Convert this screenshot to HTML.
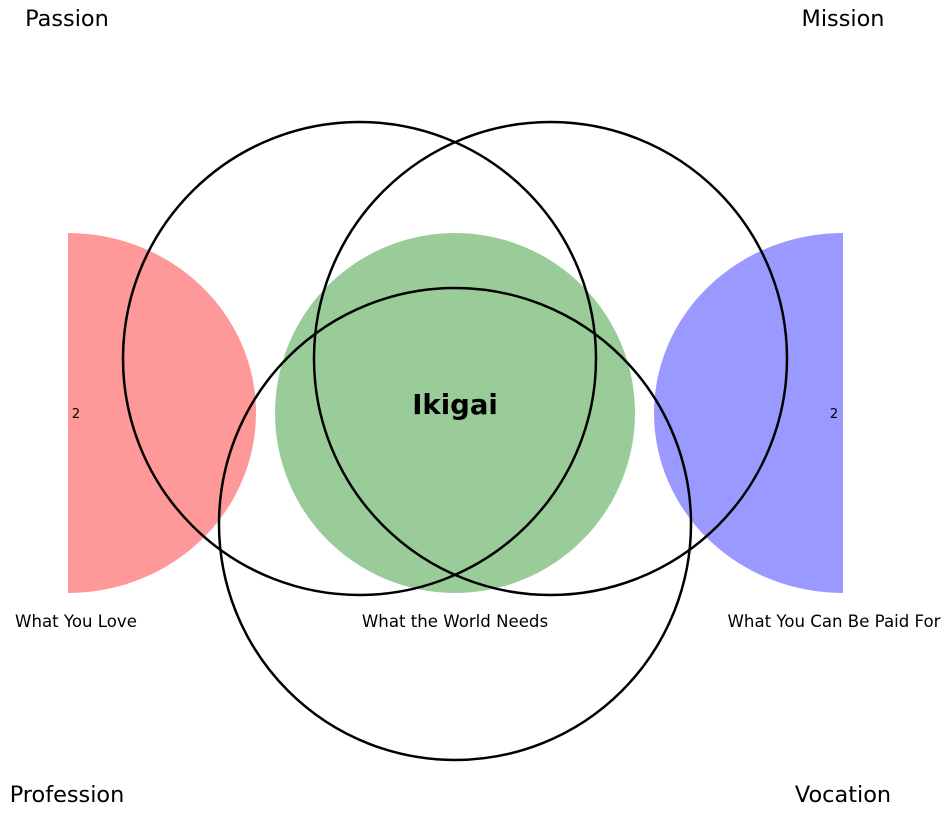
<!DOCTYPE html>
<html><head><meta charset="utf-8"><style>body{margin:0;background:#fff}svg{display:block}</style></head>
<body>
<svg width="950" height="826" viewBox="0 0 950 826" xmlns="http://www.w3.org/2000/svg" font-family="DejaVu Sans, Liberation Sans, sans-serif">
<defs>
<clipPath id="cr"><rect x="68" y="0" width="775" height="826"/></clipPath>
</defs>
<g clip-path="url(#cr)">
<ellipse cx="68" cy="413" rx="188" ry="180" fill="#ff9999"/>
<ellipse cx="843" cy="413" rx="189" ry="180" fill="#9999ff"/>
</g>
<ellipse cx="455" cy="413" rx="180" ry="180" fill="#99cc99"/>
<g fill="none" stroke="#000" stroke-width="2.5">
<circle cx="359.5" cy="358.5" r="236.5"/>
<circle cx="550.5" cy="358.5" r="236.5"/>
<circle cx="455" cy="524" r="236"/>
</g>
<text x="455" y="414" text-anchor="middle" font-size="27.5" font-weight="bold">Ikigai</text>
<text x="76" y="418" text-anchor="middle" font-size="13">2</text>
<text x="834" y="418" text-anchor="middle" font-size="13">2</text>
<g font-size="16.6" text-anchor="middle">
<text x="76" y="627">What You Love</text>
<text x="455" y="627">What the World Needs</text>
<text x="834" y="627">What You Can Be Paid For</text>
</g>
<g font-size="22.4" text-anchor="middle">
<text x="67" y="26">Passion</text>
<text x="843" y="26">Mission</text>
<text x="67" y="802">Profession</text>
<text x="843" y="802">Vocation</text>
</g>
</svg>
</body></html>
